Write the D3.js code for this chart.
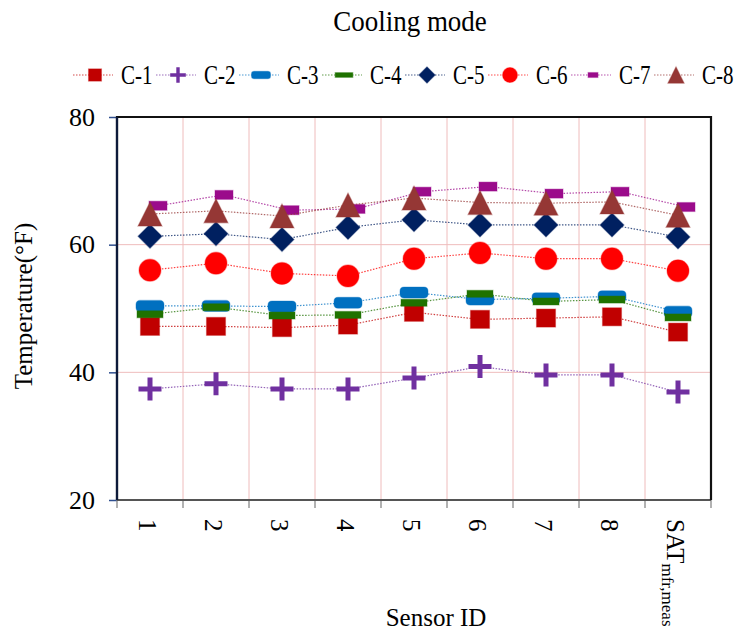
<!DOCTYPE html>
<html>
<head>
<meta charset="utf-8">
<script src="https://cdn.jsdelivr.net/npm/d3@7/dist/d3.min.js"></script>
<style>
  html, body { margin: 0; padding: 0; background: #fff; }
  svg text { font-family: "Liberation Serif", "DejaVu Serif", serif; fill: #000; }
</style>
</head>
<body>
<svg id="chart" width="738" height="631"></svg>
<script>
// Sensor positions along the horizontal axis
const sensors = ["1", "2", "3", "4", "5", "6", "7", "8", "SAT"];
const seriesNames = ["C-1", "C-2", "C-3", "C-4", "C-5", "C-6", "C-7", "C-8"];

// Measured temperatures (°F) per case, one value per sensor
const c1 = [47.2, 47.2, 47.0, 47.4, 49.4, 48.3, 48.5, 48.7, 46.3];
const c2 = [37.4, 38.2, 37.4, 37.4, 39.1, 40.9, 39.6, 39.6, 36.9];
const c3 = [50.4, 50.4, 50.3, 50.9, 52.5, 51.4, 51.6, 51.9, 49.5];
const c4 = [49.1, 50.2, 48.9, 49.0, 50.9, 52.3, 51.1, 51.4, 48.6];
const c5 = [61.3, 61.7, 60.8, 62.7, 63.9, 63.1, 63.1, 63.1, 61.2];
const c6 = [56.0, 57.1, 55.5, 55.1, 57.8, 58.7, 57.8, 57.8, 55.9];
const c7 = [66.1, 67.8, 65.4, 65.6, 68.3, 69.1, 68.0, 68.3, 65.9];
const c8 = [64.8, 65.3, 64.5, 66.2, 67.3, 66.6, 66.5, 66.7, 64.6];

const yTicks = [20, 40, 60, 80];

const seriesValues = [c1, c2, c3, c4, c5, c6, c7, c8];
const colors = ["#c00000", "#7030a0", "#0070c0", "#1f7200", "#002060", "#ff0000", "#9b0b8b", "#953735"];
const shapes = ["square", "plus", "pill", "bar", "diamond", "circle", "smallbar", "triangle"];

const svg = d3.select("#chart");
const plot = { left: 117, right: 711, top: 117, bottom: 500 };

const x = d3.scaleBand().domain(sensors).range([plot.left, plot.right]).paddingInner(0).paddingOuter(0);
const y = d3.scaleLinear().domain([20, 80]).range([plot.bottom, plot.top]);
const cx = s => x(s) + x.bandwidth() / 2;

// Grid lines
const grid = svg.append("g");
const bounds = sensors.slice(1).map(s => x(s));
grid.selectAll("line.v").data(bounds).join("line")
  .attr("x1", d => d).attr("x2", d => d)
  .attr("y1", plot.top).attr("y2", plot.bottom)
  .attr("stroke", "#efbcbc").attr("stroke-width", 1);
grid.selectAll("line.h").data(yTicks.filter(t => t > 20 && t < 80)).join("line")
  .attr("x1", plot.left).attr("x2", plot.right)
  .attr("y1", d => y(d)).attr("y2", d => y(d))
  .attr("stroke", "#efbcbc").attr("stroke-width", 1);

// Axes
const yAxis = svg.append("g").attr("transform", `translate(${plot.left},0)`)
  .call(d3.axisLeft(y).tickValues(yTicks).tickSize(8).tickFormat(d3.format("d")));
yAxis.select(".domain").remove();
yAxis.selectAll(".tick line").attr("stroke", "#2f4f8f").attr("stroke-width", 1.5);
yAxis.selectAll(".tick text").attr("x", -22).attr("font-size", 26)
  .attr("font-family", "Liberation Serif").attr("fill", "#000");

const xAxis = svg.append("g").attr("transform", `translate(0,${plot.bottom})`);
const tickPos = sensors.map(s => x(s)).concat([plot.right]);
xAxis.selectAll("line").data(tickPos).join("line")
  .attr("x1", d => d).attr("x2", d => d).attr("y1", 0).attr("y2", 8)
  .attr("stroke", "#7f7f7f").attr("stroke-width", 1.2);

const xLabels = xAxis.selectAll("text").data(sensors).join("text")
  .attr("transform", d => `translate(${cx(d) - 2},19) rotate(90)`)
  .attr("dy", "0.35em")
  .attr("font-size", 25);
xLabels.each(function(d) {
  const t = d3.select(this);
  if (d === "SAT") {
    t.append("tspan").text("SAT");
    t.append("tspan").attr("font-size", 17).attr("dy", "0.3em").text("mfr,meas");
  } else {
    t.text(d);
  }
});

// Plot frame
svg.append("line").attr("x1", plot.left).attr("x2", plot.right)
  .attr("y1", plot.bottom).attr("y2", plot.bottom)
  .attr("stroke", "#555").attr("stroke-width", 2);
svg.append("path")
  .attr("d", `M${plot.left},${plot.bottom}V${plot.top}H${plot.right}V${plot.bottom}`)
  .attr("fill", "none").attr("stroke", "#111").attr("stroke-width", 2.2);
svg.append("line").attr("x1", plot.left).attr("x2", plot.left)
  .attr("y1", plot.top).attr("y2", plot.bottom)
  .attr("stroke", "#0d1a3a").attr("stroke-width", 2.2);

// Marker drawing
function drawMarker(g, shape, color, scale) {
  const k = scale;
  let m;
  switch (shape) {
    case "square":
      m = g.append("rect").attr("x", -9.5 * k).attr("y", -9 * k).attr("width", 19 * k).attr("height", 18 * k);
      break;
    case "plus": {
      const a = 11.5 * k;
      g.append("path").attr("d", `M${-a},0H${a}M0,${-a}V${a}`)
        .attr("stroke", color).attr("stroke-width", 5 * k).attr("fill", "none");
      return;
    }
    case "pill":
      m = g.append("rect").attr("x", -14 * k).attr("y", -5.5 * k).attr("width", 28 * k).attr("height", 11 * k)
        .attr("rx", 4 * k);
      break;
    case "bar":
      m = g.append("rect").attr("x", -13 * k).attr("y", -3.5 * k).attr("width", 26 * k).attr("height", 7 * k);
      break;
    case "diamond": {
      const a = 12 * k;
      m = g.append("path").attr("d", `M0,${-a}L${a},0L0,${a}L${-a},0Z`);
      break;
    }
    case "circle":
      m = g.append("circle").attr("r", 11 * k);
      break;
    case "smallbar":
      m = g.append("rect").attr("x", -9 * k).attr("y", -4.5 * k).attr("width", 18 * k).attr("height", 9 * k);
      break;
    case "triangle": {
      const a = 12 * k;
      m = g.append("path").attr("d", `M0,${-a}L${a},${a}L${-a},${a}Z`);
      break;
    }
  }
  m.attr("fill", color).attr("stroke", color).attr("stroke-opacity", 0.35).attr("stroke-width", 1.2);
}

// Series: dotted connector then markers, drawn in order
const offsetX = [0, 0, 0, 0, 0, 0, 8, 0];
seriesValues.forEach((vals, i) => {
  const g = svg.append("g");
  const pts = sensors.map((s, j) => [cx(s) + offsetX[i], y(vals[j])]);
  g.append("path").attr("d", d3.line()(pts))
    .attr("fill", "none").attr("stroke", colors[i]).attr("stroke-opacity", 0.75)
    .attr("stroke-width", 1.2).attr("stroke-dasharray", "1.5 1.5");
  g.selectAll("g.m").data(pts).join("g")
    .attr("transform", d => `translate(${d[0]},${d[1]})`)
    .each(function() { drawMarker(d3.select(this), shapes[i], colors[i], 1); });
});

// Legend
const lx = d3.scalePoint().domain(seriesNames).range([95, 676]);
const legend = svg.append("g").attr("transform", "translate(0,75)");
seriesNames.forEach((name, i) => {
  const item = legend.append("g").attr("transform", `translate(${lx(name)},0)`);
  item.append("line").attr("x1", -22).attr("x2", 18).attr("y1", 0).attr("y2", 0)
    .attr("stroke", colors[i]).attr("stroke-opacity", 0.7).attr("stroke-width", 1.2)
    .attr("stroke-dasharray", "1.5 1.5");
  const mg = item.append("g");
  drawMarker(mg, shapes[i], colors[i], i === 6 ? 0.55 : 0.68);
  item.append("text").attr("transform", "translate(26,0) scale(1,1.25)")
    .attr("dy", "0.35em").attr("font-size", 21).text(name);
});

// Titles
svg.append("text").attr("transform", "translate(410,31) scale(1,1.12)").attr("text-anchor", "middle")
  .attr("font-size", 27).text("Cooling mode");
svg.append("text").attr("x", 436).attr("y", 626).attr("text-anchor", "middle")
  .attr("font-size", 25).text("Sensor ID");
svg.append("text").attr("transform", "translate(32,306) rotate(-90)").attr("text-anchor", "middle")
  .attr("font-size", 25).text("Temperature(°F)");
</script>
</body>
</html>
